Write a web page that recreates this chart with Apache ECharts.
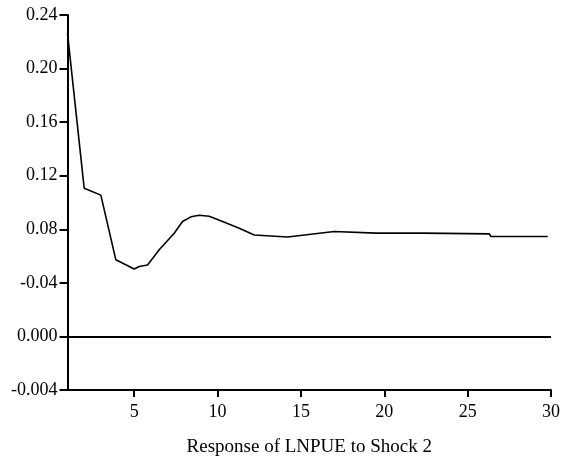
<!DOCTYPE html>
<html>
<head>
<meta charset="utf-8">
<script src="https://cdn.jsdelivr.net/npm/echarts@6/dist/echarts.min.js"></script>
<style>html,body{margin:0;padding:0;background:#fff}#c{width:563px;height:464px}</style>
</head>
<body>
<div id="c"></div>
<script>
var periods = [1, 2, 3, 3.9, 5, 5.3, 5.8, 6.5, 7.4, 7.9, 8.4, 8.9, 9.5, 10.3, 11.3, 12.2, 14.2, 17, 19.5, 22.3, 26.3, 26.4, 29.8];
var values = [0.2263, 0.1107, 0.1055, 0.0572, 0.0503, 0.0522, 0.0533, 0.0647, 0.0771, 0.0858, 0.0893, 0.0905, 0.0897, 0.0858, 0.0807, 0.0757, 0.0742, 0.0784, 0.0771, 0.0771, 0.0766, 0.0746, 0.0746];
var yTickLabels = ['-0.004', '0.000', '-0.04', '0.08', '0.12', '0.16', '0.20', '0.24'];
var xTicks = [5, 10, 15, 20, 25, 30];
var title = 'Response of LNPUE to Shock 2';

var font = 'Liberation Serif';
var chart = echarts.init(document.getElementById('c'));
var data = periods.map(function (p, i) { return [p, values[i]]; });
chart.setOption({
  animation: false,
  backgroundColor: '#fff',
  grid: { left: 67.5, right: 10, top: 15, bottom: 74 },
  xAxis: {
    type: 'value', min: 1, max: 30,
    name: title, nameLocation: 'middle', nameGap: 48,
    nameTextStyle: { fontFamily: font, fontSize: 19, color: '#000' },
    splitLine: { show: false },
    axisLine: { show: true, onZero: false, lineStyle: { color: '#000', width: 2 } },
    axisTick: { show: true, customValues: xTicks, length: 7, lineStyle: { color: '#000', width: 2 } },
    axisLabel: { customValues: xTicks, margin: 13, fontFamily: font, fontSize: 18, color: '#000' }
  },
  yAxis: {
    type: 'value', min: -0.04, max: 0.24, interval: 0.04,
    splitLine: { show: false },
    axisLine: { show: true, lineStyle: { color: '#000', width: 2 } },
    axisTick: { show: true, inside: false, length: 8, lineStyle: { color: '#000', width: 2 } },
    axisLabel: {
      margin: 10, fontFamily: font, fontSize: 18, color: '#000',
      formatter: function (v) { var i = Math.round((v + 0.04) / 0.04); return yTickLabels[i]; }
    }
  },
  series: [{
    type: 'line', data: data, symbol: 'none', smooth: false,
    lineStyle: { color: '#000', width: 1.6 },
    markLine: {
      silent: true, symbol: 'none', label: { show: false },
      lineStyle: { color: '#000', width: 2, type: 'solid' },
      data: [{ yAxis: 0 }]
    }
  }]
});
</script>
</body>
</html>
